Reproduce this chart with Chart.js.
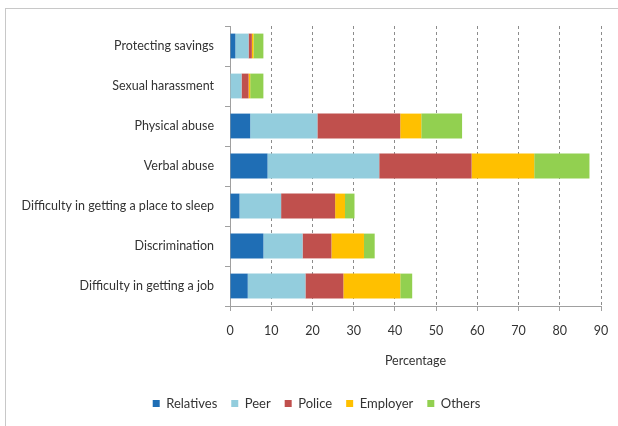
<!DOCTYPE html>
<html>
<head>
<meta charset="utf-8">
<script src="https://cdn.jsdelivr.net/npm/chart.js@4"></script>
<style>
  html, body { margin: 0; padding: 0; background: #fff; }
  #frame {
    position: absolute; left: 5px; top: 8px; width: 640px; height: 440px;
    border-left: 1px solid #c8c8c8; border-top: 1px solid #c8c8c8;
  }
  #wrap { position: absolute; left: 0; top: 0; width: 618px; height: 426px; }
</style>
</head>
<body>
<div id="frame"></div>
<div id="wrap"><canvas id="chart"></canvas></div>
<script>
// Chart data
const categories = [
  "Protecting savings",
  "Sexual harassment",
  "Physical abuse",
  "Verbal abuse",
  "Difficulty in getting a place to sleep",
  "Discrimination",
  "Difficulty in getting a job",
];
const relatives = [1.3, 0, 4.9, 9.1, 2.3, 8.1, 4.3];
const peer = [3.2, 2.8, 16.3, 27.1, 10.1, 9.5, 14.0];
const police = [0.8, 1.7, 20.1, 22.4, 13.1, 7.0, 9.2];
const employer = [0.4, 0.4, 5.1, 15.2, 2.4, 7.9, 13.8];
const others = [2.4, 3.2, 9.9, 13.4, 2.3, 2.6, 2.9];
const xTicks = [0, 10, 20, 30, 40, 50, 60, 70, 80, 90];

const textColor = "#333333";
const lineColor = "#a0a0a0";

function makeSet(label, data, color) {
  return {
    label: label,
    data: data,
    backgroundColor: color,
    borderWidth: 0,
    categoryPercentage: 1,
    barPercentage: 0.62,
  };
}

// shift the legend so it sits where the reference has it
const legendShift = {
  id: "legendShift",
  afterLayout: function (chart) {
    if (chart.legend) {
      chart.legend.left += 16;
      chart.legend.right += 16;
    }
  },
};

const ctx = document.getElementById("chart").getContext("2d");
new Chart(ctx, {
  type: "bar",
  data: {
    labels: categories,
    datasets: [
      makeSet("Relatives", relatives, "#1F6EB5"),
      makeSet("Peer", peer, "#93CDDD"),
      makeSet("Police", police, "#C0504D"),
      makeSet("Employer", employer, "#FFC000"),
      makeSet("Others", others, "#92D050"),
    ],
  },
  plugins: [legendShift],
  options: {
    indexAxis: "y",
    responsive: true,
    maintainAspectRatio: false,
    animation: false,
    layout: { padding: { left: 0, right: 17, top: 26, bottom: 6 } },
    scales: {
      x: {
        stacked: true,
        min: 0,
        max: 90,
        afterBuildTicks: function (scale) {
          scale.ticks = xTicks.map(function (v) { return { value: v }; });
        },
        afterFit: function (scale) {
          scale.height = 77;
          scale.paddingLeft = 0;
          scale.paddingRight = 0;
        },
        grid: {
          color: function (c) { return c.tick && c.tick.value === 0 ? "rgba(0,0,0,0)" : "#8c8c8c"; },
          tickColor: lineColor,
          tickLength: 5,
        },
        border: { display: true, color: lineColor, dash: [3, 3] },
        ticks: {
          color: textColor,
          padding: 12,
          font: { family: "Lato", size: 12.5 },
        },
        title: {
          display: true,
          text: "Percentage",
          color: textColor,
          font: { family: "Lato", size: 12.5 },
          padding: { top: 4, bottom: 15 },
        },
      },
      y: {
        stacked: true,
        afterFit: function (scale) { scale.width = 230; },
        grid: {
          offset: true,
          drawOnChartArea: false,
          tickColor: lineColor,
          tickLength: 5,
        },
        border: { display: true, color: lineColor },
        ticks: {
          color: textColor,
          padding: 11,
          font: { family: "Lato", size: 12.5 },
        },
      },
    },
    plugins: {
      legend: {
        position: "bottom",
        labels: {
          boxWidth: 7,
          boxHeight: 7,
          color: textColor,
          padding: 14,
          font: { family: "Lato", size: 13 },
        },
      },
      tooltip: { enabled: false },
    },
  },
});
</script>
</body>
</html>
